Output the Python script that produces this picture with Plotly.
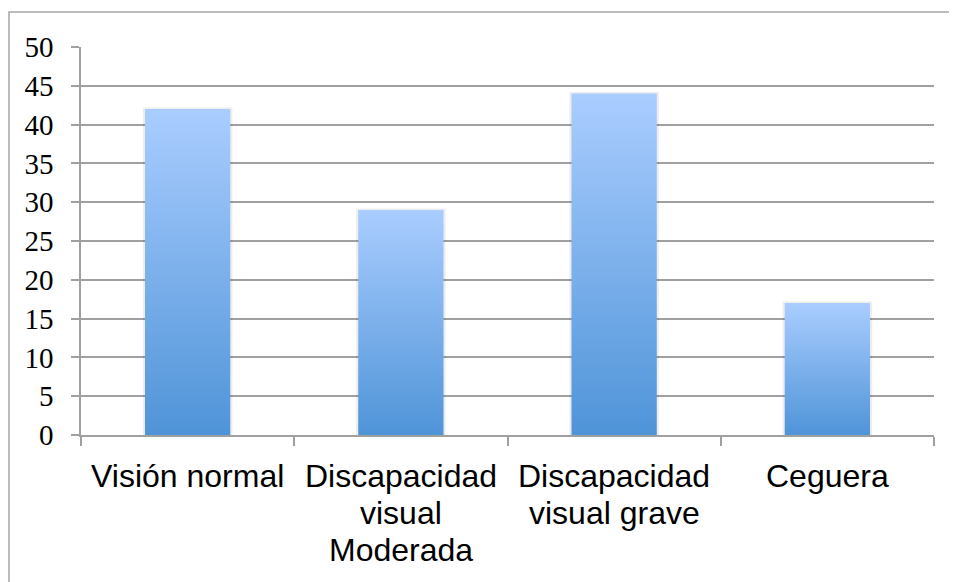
import plotly.graph_objects as go

categories = ["Visión normal", "Discapacidad visual Moderada", "Discapacidad visual grave", "Ceguera"]
label_lines = [["Visión normal"], ["Discapacidad", "visual", "Moderada"], ["Discapacidad", "visual grave"], ["Ceguera"]]
values = [42, 29, 44, 17]
y_ticks = [0, 5, 10, 15, 20, 25, 30, 35, 40, 45, 50]

BAR_W = 0.4
TOP_COLOR = "#aacdff"
BOTTOM_COLOR = "#4f94d8"
GRID = "#a0a0a0"

fig = go.Figure()
for i, v in enumerate(values):
    # soft shadow
    fig.add_trace(go.Scatter(
        x=[i - BAR_W / 2 - 0.01, i + BAR_W / 2 + 0.01, i + BAR_W / 2 + 0.01, i - BAR_W / 2 - 0.01, i - BAR_W / 2 - 0.01],
        y=[0, 0, v + 0.2, v + 0.2, 0],
        mode="lines", line=dict(width=0), fill="toself",
        fillcolor="rgba(0,0,0,0.07)", hoverinfo="skip", showlegend=False))
    fig.add_trace(go.Scatter(
        x=[i - BAR_W / 2, i + BAR_W / 2, i + BAR_W / 2, i - BAR_W / 2, i - BAR_W / 2],
        y=[0, 0, v, v, 0],
        mode="lines", line=dict(width=0), fill="toself",
        fillgradient=dict(type="vertical", colorscale=[[0, BOTTOM_COLOR], [1, TOP_COLOR]]),
        name=categories[i], showlegend=False))

annotations = []
for i, lines in enumerate(label_lines):
    for k, line in enumerate(lines):
        annotations.append(dict(
            x=i, y=0, xref="x", yref="y", text=line, showarrow=False,
            yanchor="top", xanchor="center", yshift=-21 - 37 * k,
            font=dict(family="Liberation Sans, Arial, sans-serif", size=32, color="#000000")))

fig.update_layout(
    width=957, height=582,
    margin=dict(l=73, r=31, t=39, b=155),
    paper_bgcolor="white", plot_bgcolor="white",
    xaxis=dict(range=[-0.5, 3.5], tickmode="array",
               tickvals=[-0.5, 0.5, 1.5, 2.5, 3.5], showticklabels=False,
               ticks="outside", ticklen=9, tickwidth=1.5, tickcolor=GRID,
               showgrid=False, zeroline=False, showline=True, linecolor=GRID, linewidth=1.5),
    yaxis=dict(range=[0, 50], tickmode="array", tickvals=y_ticks,
               ticks="outside", ticklen=8, tickwidth=1.5, tickcolor=GRID,
               showgrid=True, gridcolor=GRID, gridwidth=1.5, zeroline=False,
               showline=True, linecolor=GRID, linewidth=1.5,
               ticklabelstandoff=12,
               tickfont=dict(family="Liberation Serif, Times New Roman, serif", size=29, color="#000000")),
    annotations=annotations,
    shapes=[dict(type="rect", xref="paper", yref="paper",
                 x0=(9 - 81) / 853, x1=1.2, y0=-0.5, y1=(435 - 12) / 388,
                 line=dict(color="#a6a6a6", width=1.5), fillcolor="rgba(0,0,0,0)", layer="below")],
)

fig.write_html("out.html")
